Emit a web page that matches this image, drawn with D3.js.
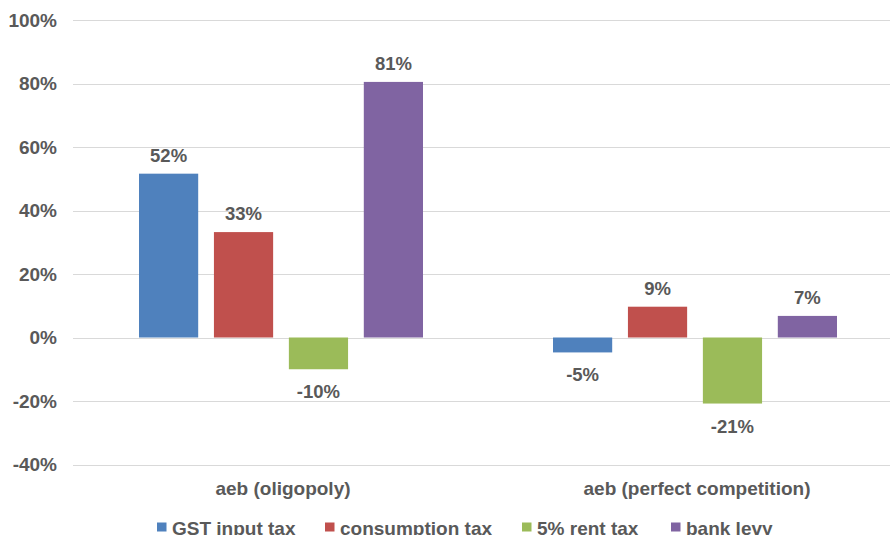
<!DOCTYPE html>
<html>
<head>
<meta charset="utf-8">
<script src="https://cdn.jsdelivr.net/npm/d3@7"></script>
<style>
  body { margin: 0; background: #fff; }
  svg { font-family: "Liberation Sans", Arial, sans-serif; font-weight: bold; }
</style>
</head>
<body>
<svg id="chart" width="890" height="535"></svg>
<script>
const categories = ['aeb (oligopoly)', 'aeb (perfect competition)'];
const seriesNames = ['GST input tax', 'consumption tax', '5% rent tax', 'bank levy'];
const seriesColors = ['#4F81BD', '#C0504D', '#9BBB59', '#8064A2'];
// one array per series, one value per category
const gstInput = [51.6, -4.7];
const consumption = [33.2, 9.7];
const rentTax = [-10, -20.8];
const bankLevy = [80.5, 6.8];
const labelsText = [['52%', '-5%'], ['33%', '9%'], ['-10%', '-21%'], ['81%', '7%']];
const yTicks = [-40, -20, 0, 20, 40, 60, 80, 100];

const series = [gstInput, consumption, rentTax, bankLevy];
const svg = d3.select('#chart');
const grey = '#595959';

const x0 = d3.scaleBand().domain(categories).range([74, 902]);
const x1 = d3.scaleBand().domain(seriesNames)
  .range([65, x0.bandwidth() - 65]).paddingInner(0.21);
const y = d3.scaleLinear().domain([-40, 100]).range([464.5, 20]);

// gridlines
svg.append('g')
  .selectAll('line')
  .data(yTicks)
  .join('line')
  .attr('x1', 73).attr('x2', 890)
  .attr('y1', d => Math.round(y(d)) + 0.5)
  .attr('y2', d => Math.round(y(d)) + 0.5)
  .attr('stroke', '#d9d9d9')
  .attr('stroke-width', 1);

// y tick labels
svg.append('g')
  .selectAll('text')
  .data(yTicks)
  .join('text')
  .attr('x', 57)
  .attr('y', d => y(d))
  .attr('dy', '0.35em')
  .attr('text-anchor', 'end')
  .attr('fill', grey)
  .attr('font-size', 19)
  .text(d => d + '%');

// bars
const groups = svg.append('g')
  .selectAll('g')
  .data(categories)
  .join('g')
  .attr('transform', d => `translate(${x0(d)},0)`);

const cells = (c, ci) => seriesNames.map((s, si) => ({ s, si, v: series[si][ci], t: labelsText[si][ci] }));

groups.selectAll('rect')
  .data(cells)
  .join('rect')
  .attr('x', d => x1(d.s))
  .attr('width', x1.bandwidth())
  .attr('y', d => y(Math.max(0, d.v)))
  .attr('height', d => Math.abs(y(d.v) - y(0)))
  .attr('fill', d => seriesColors[d.si]);

groups.selectAll('text')
  .data(cells)
  .join('text')
  .attr('x', d => x1(d.s) + x1.bandwidth() / 2)
  .attr('y', d => d.v >= 0 ? y(d.v) - 12 : y(d.v) + 29)
  .attr('text-anchor', 'middle')
  .attr('fill', grey)
  .attr('font-size', 18.5)
  .text(d => d.t);

// category labels
svg.append('g')
  .selectAll('text')
  .data(categories)
  .join('text')
  .attr('x', d => x0(d) + x0.bandwidth() / 2 + 2)
  .attr('y', 495)
  .attr('text-anchor', 'middle')
  .attr('fill', grey)
  .attr('font-size', 19)
  .text(d => d);

// legend
const legendX = [157, 325, 522, 671];
const legend = svg.append('g')
  .selectAll('g')
  .data(seriesNames)
  .join('g')
  .attr('transform', (d, i) => `translate(${legendX[i]},527)`);
legend.append('rect')
  .attr('x', 0).attr('y', -4.5)
  .attr('width', 9.5).attr('height', 9)
  .attr('fill', (d, i) => seriesColors[i]);
legend.append('text')
  .attr('x', 15)
  .attr('y', 8)
  .attr('fill', grey)
  .attr('font-size', 19)
  .text(d => d);
</script>
</body>
</html>
